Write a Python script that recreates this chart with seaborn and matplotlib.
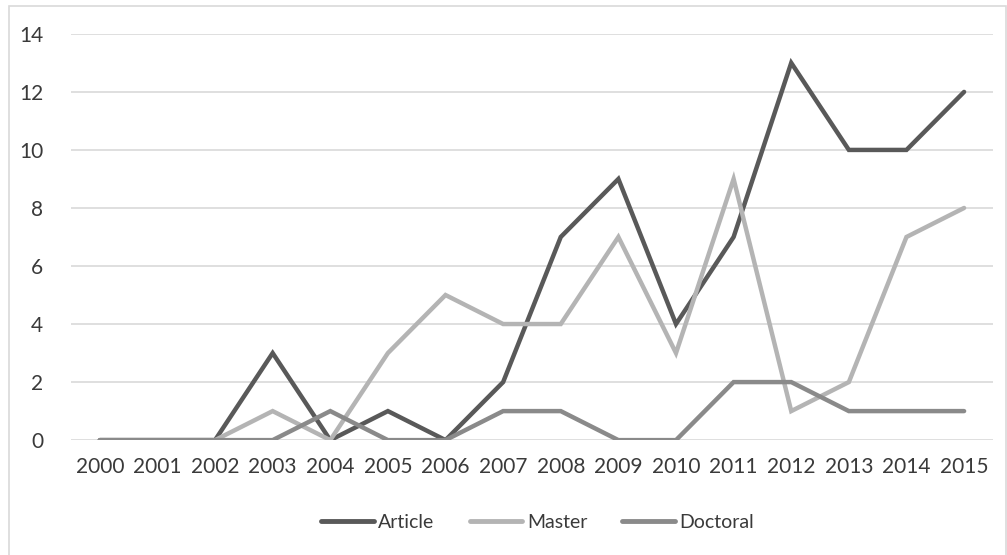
import matplotlib
matplotlib.use("Agg")
import matplotlib.pyplot as plt
from matplotlib.patches import Rectangle
import pandas as pd
import seaborn as sns

years = list(range(2000, 2016))
article = [0, 0, 0, 3, 0, 1, 0, 2, 7, 9, 4, 7, 13, 10, 10, 12]
master = [0, 0, 0, 1, 0, 3, 5, 4, 4, 7, 3, 9, 1, 2, 7, 8]
doctoral = [0, 0, 0, 0, 1, 0, 0, 1, 1, 0, 0, 2, 2, 1, 1, 1]
series_names = ["Article", "Master", "Doctoral"]
colors = {"Article": "#595959", "Master": "#b4b4b4", "Doctoral": "#8a8a8a"}

df = pd.DataFrame({
    "year": years * 3,
    "count": article + master + doctoral,
    "series": [s for s in series_names for _ in years],
})

sns.set_theme(style="white")
plt.rcParams["font.family"] = ["Lato", "DejaVu Sans"]

fig = plt.figure(figsize=(10.07, 5.55), dpi=100)
ax = fig.add_axes([0.0705, 0.207, 0.9155, 0.732])

# light frame around the whole chart
fig.patches.append(Rectangle((9 / 1007, -0.01), 0.999 - 9 / 1007, 1 - 6 / 555 + 0.01,
                             transform=fig.transFigure, fill=False,
                             edgecolor="#d9d9d9", linewidth=1.2))

sns.lineplot(data=df, x="year", y="count", hue="series", palette=colors,
             hue_order=series_names, linewidth=3.2, ax=ax, legend=False,
             solid_capstyle="round", solid_joinstyle="miter")

ax.set_xlim(1999.5, 2015.5)
ax.set_ylim(0, 14)
ax.set_yticks(range(0, 15, 2))
ax.set_xticks(years)
ax.set_xticklabels([str(y) for y in years])
ax.yaxis.grid(True, color="#d9d9d9", linewidth=1.2)
ax.set_axisbelow(True)
for sp in ax.spines.values():
    sp.set_visible(False)
ax.set_xlabel("")
ax.set_ylabel("")
ax.tick_params(axis="both", length=0, labelsize=15, colors="#3a3a3a")
ax.tick_params(axis="y", pad=20)
ax.tick_params(axis="x", pad=12)

handles = [plt.Line2D([0], [0], color=colors[s], linewidth=3.5, solid_capstyle="round")
           for s in series_names]
fig.legend(handles, series_names, loc="center", bbox_to_anchor=(0.534, 0.059),
           ncol=3, frameon=False, fontsize=14, handlelength=2.7, columnspacing=1.8,
           handletextpad=0.25, labelcolor="#3a3a3a")

fig.savefig("out.png", dpi=100)
